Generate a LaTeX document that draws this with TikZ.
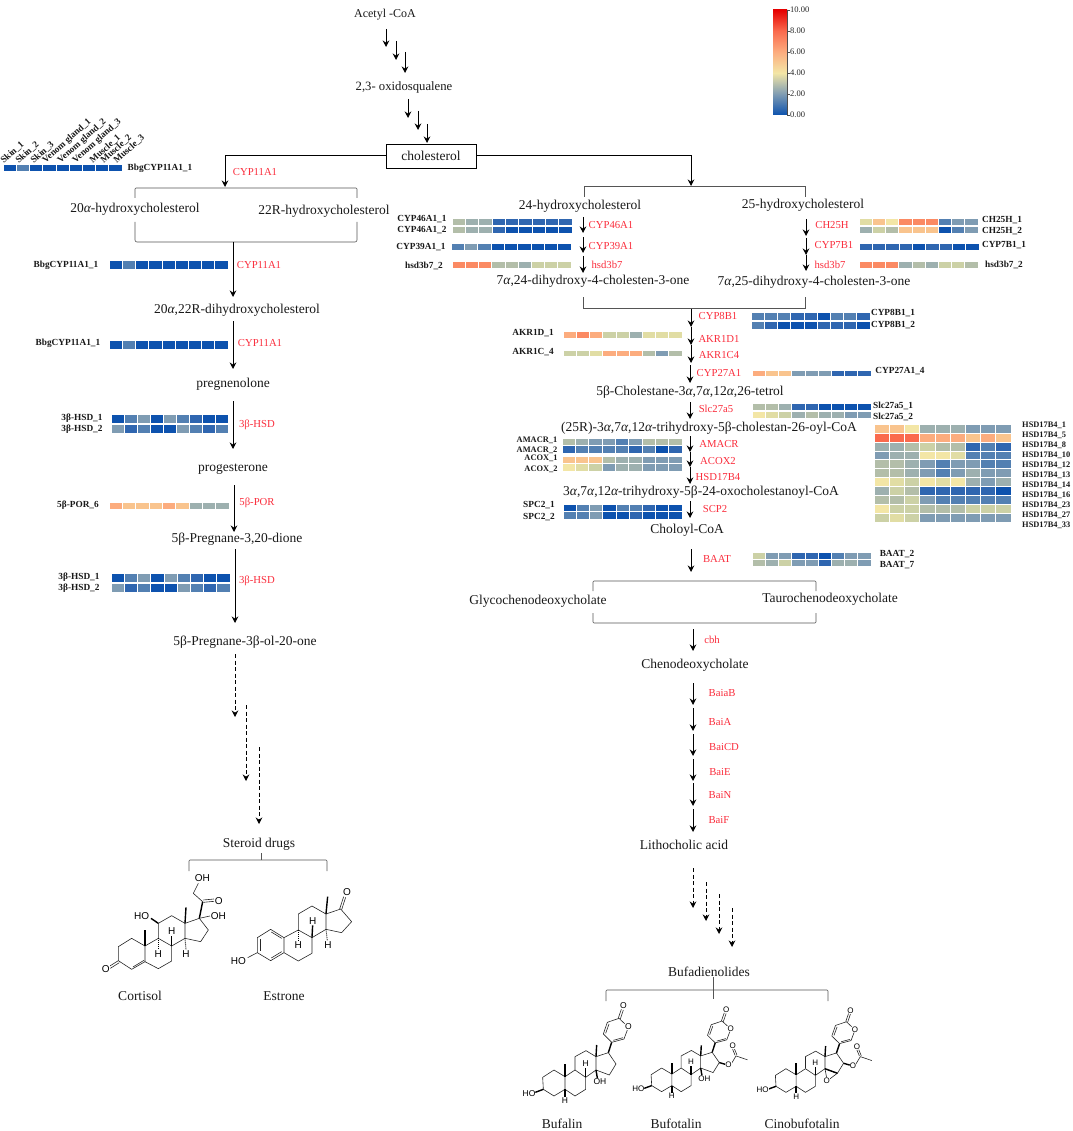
\documentclass[tikz,border=0pt]{standalone}
\usepackage{xcolor}
\usepackage{fontspec}
\setmainfont{Liberation Serif}
\newfontfamily\molfont{Liberation Sans}
\usetikzlibrary{arrows.meta, positioning, calc}
\definecolor{enzymered}{RGB}{250,45,60}
\definecolor{brackgray}{RGB}{85,85,85}
\definecolor{hma}{HTML}{0D52AE}
\definecolor{hmb}{HTML}{2F66B0}
\definecolor{hmc}{HTML}{5380B2}
\definecolor{hmd}{HTML}{7F9CB3}
\definecolor{hme}{HTML}{9DB0AF}
\definecolor{hmf}{HTML}{B3BEA9}
\definecolor{hmg}{HTML}{CCD1A6}
\definecolor{hmh}{HTML}{E1DDA4}
\definecolor{hmi}{HTML}{F3E6A6}
\definecolor{hmj}{HTML}{F9C48E}
\definecolor{hmk}{HTML}{FCAC7E}
\definecolor{hml}{HTML}{FB8A63}
\definecolor{hmm}{HTML}{FA6A4D}
\newcommand{\al}{{\itshape α}}
% x, y, cell width, cell height, colours
\newcommand{\heatrow}[5]{%
  \foreach \c [count=\i from 0] in {#5}
    \fill[fill=hm\c, draw=white, line width=0.4pt] ({#1+\i*#3},#2) rectangle +(#3,#4);}
% name, x, from y, to y
\newcommand{\flowstep}[4]{%
  \coordinate (#1s) at (#2,#3);
  \coordinate (#1e) at (#2,#4);
  \draw[flow] (#1s) -- (#1e);}
\newcommand{\dashstep}[4]{%
  \coordinate (#1s) at (#2,#3);
  \coordinate (#1e) at (#2,#4);
  \draw[flow, line width=0.9pt, dash pattern=on 4pt off 2.5pt] (#1s) -- (#1e);}
% bufadienolide skeleton without C14 and C16 groups
\newcommand{\bufskeleton}[1]{%
  \draw[bond] (98,262) -- (132,240) -- (165,260) -- (165,298) -- (132,318) -- (100,298) -- cycle;
  \draw[bond] (165,260) -- (195,240) -- (227,262) -- (227,298) -- (195,318) -- (165,298);
  \draw[bond] (195,240) -- (195,200) -- (228,182) -- (258,200) -- (258,240) -- (227,262);
  \draw[bond] (258,200) -- (295,188) -- (318,222) -- (298,255) -- (258,240);
  \draw[wedge] (165,260) -- (165,222);
  \draw[wedge] (258,200) -- (260,165);
  \draw[wedge] (295,188) -- (305,157);
  \draw[wedge] (227,262) -- (227,233);
  \draw[wedge] (165,298) -- (165,321);
  \draw[wedge] (100,298) -- (76,307);
  \draw[bond] (305,157) -- (280,132) -- (292,97) -- (327,85) -- (344,101);
  \draw[bond] (352,120) -- (342,147) -- (305,157);
  \draw[bond] (287,130) -- (297,102);
  \draw[bond] (310,151) -- (339,143);
  \draw[bond] (325,84) -- (334,58);
  \draw[bond] (331,87) -- (340,60);
  \node[atom] (#1O) at (355,110) {O};
  \node[atom] (#1Oc) at (340,47) {O};
  \node[atom] (#1Ha) at (227,220) {H};
  \node[atom] (#1Hb) at (165,333) {H};
  \node[atom] (#1HO) at (57,310) {HO};}
% acetate on C16
\newcommand{\acetate}[1]{%
  \draw[wedge] (318,222) -- (338,228);
  \draw[bond] (358,224) -- (372,200) -- (409,213);
  \draw[bond] (369,198) -- (361,178);
  \draw[bond] (375,197) -- (367,177);
  \node[atom] (#1Oa) at (348,230) {O};
  \node[atom] (#1Ob) at (361,167) {O};}
\begin{document}
\begin{tikzpicture}[
    x=1pt, y=-1pt,
    metab/.style={inner sep=1pt, yshift=-0.7pt, font=\fontsize{13.5}{15}\selectfont, text=black!90},
    enz/.style={inner sep=0pt, font=\fontsize{10.7}{13}\selectfont, text=enzymered},
    gene/.style={inner sep=0pt, font=\fontsize{9.3}{10}\selectfont\bfseries, text=black!90},
    genesm/.style={inner sep=0pt, font=\fontsize{8.4}{9}\selectfont\bfseries, text=black!90},
    sample/.style={inner sep=0pt, anchor=west, rotate=42, font=\fontsize{9.3}{10}\selectfont\bfseries, text=black!90},
    tick/.style={inner sep=0pt, anchor=west, font=\fontsize{8.5}{9}\selectfont, text=black!85},
    atom/.style={inner sep=0pt, fill=white, font=\molfont\fontsize{10}{10}\selectfont},
    flow/.style={-{Stealth[length=6.5pt, width=6.5pt]}, line width=1pt},
    brack/.style={line width=0.6pt, brackgray},
    bond/.style={line width=0.6pt, line join=round, black!85},
    wedge/.style={line width=1.4pt, black},
    hash/.style={line width=0.9pt, black, dash pattern=on 1pt off 1pt}
]
    \useasboundingbox (0,0) rectangle (1072,1131);

    % Colour bar
    \shade[bottom color=hma, top color=hmd] (773,115) rectangle (787,94);
    \shade[bottom color=hmd, top color=hmi] (773,94) rectangle (787,73);
    \shade[bottom color=hmi, top color=hmk] (773,73) rectangle (787,52);
    \shade[bottom color=hmk, top color=hmm] (773,52) rectangle (787,31);
    \shade[bottom color=hmm, top color=red!90!black] (773,31) rectangle (787,10);
    \draw[line width=0.4pt, black!70] (787,10) -- (787,115);
    \node[tick] (tick10) at (790,10) {10.00};
    \node[tick] (tick8) at (790,31) {8.00};
    \node[tick] (tick6) at (790,52) {6.00};
    \node[tick] (tick4) at (790,73) {4.00};
    \node[tick] (tick2) at (790,94) {2.00};
    \node[tick] (tick0) at (790,115) {0.00};
    \draw[line width=0.4pt, black!70] (tick10.west) -- ++(-3,0);
    \draw[line width=0.4pt, black!70] (tick8.west) -- ++(-3,0);
    \draw[line width=0.4pt, black!70] (tick6.west) -- ++(-3,0);
    \draw[line width=0.4pt, black!70] (tick4.west) -- ++(-3,0);
    \draw[line width=0.4pt, black!70] (tick2.west) -- ++(-3,0);
    \draw[line width=0.4pt, black!70] (tick0.west) -- ++(-3,0);

    % Top of the pathway
    \node[metab, font=\fontsize{12}{13}\selectfont] (acetyl) at (385,14) {Acetyl -CoA};
    \node[metab, font=\fontsize{12.7}{15}\selectfont] (oxido) at (404,87) {2,3- oxidosqualene};
    \node[draw, line width=0.9pt, minimum width=90pt, minimum height=24pt, metab, yshift=0.7pt] (chol) at (431,156) {cholesterol};
    \flowstep{aa}{386}{29}{47}
    \flowstep{ab}{396}{41}{60}
    \flowstep{ac}{405}{52}{73}
    \flowstep{ba}{408}{99}{118}
    \flowstep{bb}{418}{111}{130}
    \flowstep{bc}{427}{124}{143}
    \coordinate (leftin) at (225,187);
    \coordinate (rightin) at (691,186);
    \draw[flow] (chol.west) -| (leftin);
    \draw[flow] (chol.east) -| (rightin);

    % Left branch
    \node[metab] (hyd20) at (135,209) {20\al-hydroxycholesterol};
    \node[metab] (hyd22) at (324,211) {22R-hydroxycholesterol};
    \node[metab] (dihyd) at (237,310) {20\al,22R-dihydroxycholesterol};
    \node[metab] (pregnen) at (233,384) {pregnenolone};
    \node[metab] (proges) at (233,468) {progesterone};
    \node[metab] (dione) at (237,539) {5β-Pregnane-3,20-dione};
    \node[metab] (olone) at (245,641) {5β-Pregnane-3β-ol-20-one};
    \node[metab] (steroid) at (259,844) {Steroid drugs};
    \node[metab] (cortisol) at (140,995) {Cortisol};
    \node[metab] (estrone) at (284,995) {Estrone};
    \draw[brack, rounded corners=1pt] (135,198) -- (135,188) -- (357,188) -- (357,198);
    \draw[brack, rounded corners=2pt] (135,222) -- (135,242) -- (357,242) -- (357,222);
    \flowstep{la}{233}{242}{297}
    \flowstep{lb}{233}{321}{369}
    \flowstep{lc}{233}{401}{449}
    \flowstep{ld}{234}{485}{532}
    \flowstep{le}{235}{549}{623}
    \dashstep{lf}{235}{654}{717}
    \dashstep{lg}{246}{705}{781}
    \dashstep{lh}{259}{747}{824}
    \coordinate (drugl) at (189,871);
    \coordinate (drugtl) at (189,860);
    \coordinate (drugtr) at (327,860);
    \coordinate (drugr) at (327,871);
    \coordinate (drugt) at (261,853);
    \coordinate (drugm) at (261,860);
    \draw[brack, rounded corners=1pt] (drugl) -- (drugtl) -- (drugtr) -- (drugr);
    \draw[brack] (drugt) -- (drugm);

    \node[enz] (e1) at (255,172) {CYP11A1};
    \node[enz] (e2) at (259,265) {CYP11A1};
    \node[enz] (e3) at (260,343) {CYP11A1};
    \node[enz] (e4) at (257,425) {3β-HSD};
    \node[enz] (e5) at (257,503) {5β-POR};
    \node[enz] (e6) at (257,581) {3β-HSD};

    % Left heat rows
    \heatrow{3}{164.5}{13.2}{7}{a,c,a,a,a,a,a,a,a}
    \node[sample] (s1) at (2,162) {Skin\_1};
    \node[sample] (s2) at (17,162) {Skin\_2};
    \node[sample] (s3) at (32,162) {Skin\_3};
    \node[sample] (s4) at (44,162) {Venom gland\_1};
    \node[sample] (s5) at (59,162) {Venom gland\_2};
    \node[sample] (s6) at (74,162) {Venom gland\_3};
    \node[sample] (s7) at (91,162) {Muscle\_1};
    \node[sample] (s8) at (102,162) {Muscle\_2};
    \node[sample] (s9) at (115,162) {Muscle\_3};
    \node[gene] (g1) at (160,168) {BbgCYP11A1\_1};
    \heatrow{109}{260}{13.2}{9}{a,c,a,a,a,a,a,a,a}
    \node[gene] (g2) at (66,265) {BbgCYP11A1\_1};
    \heatrow{109}{340}{13.2}{9}{a,c,a,a,a,a,a,a,a}
    \node[gene] (g3) at (68,343) {BbgCYP11A1\_1};
    \heatrow{111}{414}{13}{9.5}{a,c,d,a,d,c,b,a,a}
    \heatrow{111}{424}{13}{9.5}{d,b,c,a,a,d,c,b,c}
    \node[gene] (g4) at (82,418) {3β-HSD\_1};
    \node[gene] (g5) at (82,429) {3β-HSD\_2};
    \heatrow{109}{502}{13.3}{7.5}{k,j,j,j,k,j,e,e,e}
    \node[gene] (g6) at (78,505) {5β-POR\_6};
    \heatrow{111}{573}{13.2}{9.5}{a,c,d,a,d,c,b,a,a}
    \heatrow{111}{583}{13.2}{9.5}{d,b,c,a,a,d,c,b,c}
    \node[gene] (g7) at (79,577) {3β-HSD\_1};
    \node[gene] (g8) at (79,588) {3β-HSD\_2};

    % Right branch, upper part
    \node[metab] (hyd24) at (580,206) {24-hydroxycholesterol};
    \node[metab] (hyd25) at (803,205) {25-hydroxycholesterol};
    \node[metab] (dihyd24) at (593,281) {7\al,24-dihydroxy-4-cholesten-3-one};
    \node[metab] (dihyd25) at (814,282) {7\al,25-dihydroxy-4-cholesten-3-one};
    \draw[brack] (584,197) -- (584,186) -- (805,186) -- (805,197);
    \draw[brack] (583,297) -- (583,308) -- (805,308) -- (805,297);
    \flowstep{ma}{583}{217}{233}
    \flowstep{mb}{583}{237}{253}
    \flowstep{mc}{583}{256}{273}
    \flowstep{na}{806}{219}{236}
    \flowstep{nb}{806}{238}{255}
    \flowstep{nc}{806}{255}{271}
    \node[enz] (e7) at (611,225) {CYP46A1};
    \node[enz] (e8) at (611,246) {CYP39A1};
    \node[enz] (e9) at (607,265) {hsd3b7};
    \node[enz] (e10) at (832,225) {CH25H};
    \node[enz] (e11) at (834,245) {CYP7B1};
    \node[enz] (e12) at (830,265) {hsd3b7};
    \heatrow{452}{218}{13.3}{7.5}{f,e,e,b,b,b,b,b,b}
    \heatrow{452}{226}{13.3}{7.5}{f,e,e,b,a,a,a,a,a}
    \node[gene] (g9) at (422,219) {CYP46A1\_1};
    \node[gene] (g10) at (422,230) {CYP46A1\_2};
    \heatrow{451}{243}{13.3}{7.5}{c,d,c,a,a,a,a,a,a}
    \node[gene] (g11) at (421,247) {CYP39A1\_1};
    \heatrow{452}{261}{13.2}{7.5}{l,l,l,f,f,e,g,g,g}
    \node[gene] (g12) at (424,266) {hsd3b7\_2};
    \heatrow{859}{218}{13.2}{7.5}{h,j,i,l,l,l,c,d,d}
    \heatrow{859}{226}{13.2}{7.5}{e,g,f,j,j,j,a,c,d}
    \node[gene] (g13) at (1002,220) {CH25H\_1};
    \node[gene] (g14) at (1002,231) {CH25H\_2};
    \heatrow{859}{243}{13.3}{7.5}{b,b,b,b,a,b,b,a,a}
    \node[gene] (g15) at (1004,245) {CYP7B1\_1};
    \heatrow{859}{261}{13.2}{7.5}{l,l,l,e,f,e,g,g,f}
    \node[gene] (g16) at (1004,265) {hsd3b7\_2};

    % Right branch, middle part
    \node[metab] (tetrol) at (690,391) {5β-Cholestane-3\al,7\al,12\al,26-tetrol};
    \node[metab] (oylcoa) at (709,428) {(25R)-3\al,7\al,12\al-trihydroxy-5β-cholestan-26-oyl-CoA};
    \node[metab] (oxocoa) at (701,492) {3\al,7\al,12\al-trihydroxy-5β-24-oxocholestanoyl-CoA};
    \node[metab] (choloyl) at (687,530) {Choloyl-CoA};
    \flowstep{pa}{691}{309}{327}
    \flowstep{pb}{691}{327}{345}
    \flowstep{pc}{691}{345}{363}
    \flowstep{pd}{690}{365}{383}
    \flowstep{pe}{690}{402}{419}
    \flowstep{pf}{690}{436}{452}
    \flowstep{pg}{690}{452}{467}
    \flowstep{ph}{690}{467}{484}
    \flowstep{pi}{690}{501}{518}
    \flowstep{pj}{691}{549}{572}
    \node[enz] (e13) at (718,316) {CYP8B1};
    \node[enz] (e14) at (719,339) {AKR1D1};
    \node[enz] (e15) at (719,355) {AKR1C4};
    \node[enz] (e16) at (719,373) {CYP27A1};
    \node[enz] (e17) at (716,409) {Slc27a5};
    \node[enz] (e18) at (719,444) {AMACR};
    \node[enz] (e19) at (718,461) {ACOX2};
    \node[enz] (e20) at (718,477) {HSD17B4};
    \node[enz] (e21) at (715,509) {SCP2};
    \node[enz] (e22) at (717,559) {BAAT};
    \heatrow{751}{312}{13.2}{8.5}{c,c,c,b,b,a,c,c,b}
    \heatrow{751}{321}{13.2}{8.5}{c,b,a,a,a,b,b,b,a}
    \node[gene] (g17) at (893,313.5) {CYP8B1\_1};
    \node[gene] (g18) at (893,325) {CYP8B1\_2};
    \heatrow{563}{331}{13.2}{7}{k,l,k,g,g,e,h,h,h}
    \node[gene] (g19) at (533,333) {AKR1D\_1};
    \heatrow{563}{350}{13.2}{6.5}{g,g,h,k,k,k,f,d,f}
    \node[gene] (g20) at (533,352) {AKR1C\_4};
    \heatrow{752}{370}{13.2}{6.5}{k,j,j,d,d,d,b,b,b}
    \node[gene] (g21) at (900,371) {CYP27A1\_4};
    \heatrow{752}{403}{13.2}{7.5}{f,f,e,b,b,a,a,a,a}
    \heatrow{752}{411}{13.2}{7.5}{i,h,g,e,f,e,e,d,d}
    \node[gene] (g22) at (893,406) {Slc27a5\_1};
    \node[gene] (g23) at (893,417) {Slc27a5\_2};
    \heatrow{562}{438}{13.3}{7.2}{f,e,d,d,c,d,f,f,f}
    \heatrow{562}{445.5}{13.3}{7.2}{b,c,c,c,c,b,c,a,b}
    \heatrow{562}{456}{13.3}{7.2}{j,j,j,f,e,e,d,d,d}
    \heatrow{562}{463.5}{13.3}{7.2}{i,h,g,d,e,e,d,d,d}
    \node[genesm] (g24) at (537,440) {AMACR\_1};
    \node[genesm] (g25) at (537,450) {AMACR\_2};
    \node[genesm] (g26) at (541,458) {ACOX\_1};
    \node[genesm] (g27) at (541,469) {ACOX\_2};
    \heatrow{563}{504}{13.2}{7.3}{a,c,d,a,c,c,b,a,a}
    \heatrow{563}{511.5}{13.2}{7.3}{c,c,d,a,a,b,a,a,a}
    \node[gene] (g28) at (539,505) {SPC2\_1};
    \node[gene] (g29) at (539,517) {SPC2\_2};
    \heatrow{752}{552}{13.2}{7}{g,d,d,b,b,a,c,d,d}
    \heatrow{752}{559}{13.2}{7}{f,e,g,d,d,b,e,e,d}
    \node[gene] (g30) at (897,554) {BAAT\_2};
    \node[gene] (g31) at (897,565) {BAAT\_7};

    % HSD17B4 block
    \heatrow{874}{424}{15.2}{8.9}{j,j,i,e,e,e,d,d,d}
    \heatrow{874}{432.9}{15.2}{8.9}{m,m,m,k,k,k,j,k,j}
    \heatrow{874}{441.8}{15.2}{8.9}{e,e,f,g,f,f,b,c,b}
    \heatrow{874}{450.7}{15.2}{8.9}{d,e,e,i,i,h,c,c,c}
    \heatrow{874}{459.6}{15.2}{8.9}{f,f,e,d,c,d,d,c,c}
    \heatrow{874}{468.5}{15.2}{8.9}{f,f,e,d,c,d,e,d,d}
    \heatrow{874}{477.4}{15.2}{8.9}{i,h,g,i,h,i,e,d,e}
    \heatrow{874}{486.3}{15.2}{8.9}{e,g,f,b,b,b,b,b,a}
    \heatrow{874}{495.2}{15.2}{8.9}{f,f,g,d,c,c,c,c,c}
    \heatrow{874}{504.1}{15.2}{8.9}{i,g,g,f,f,f,g,g,g}
    \heatrow{874}{513}{15.2}{8.9}{g,h,g,d,d,d,d,d,d}
    \node[genesm, anchor=west] (h1) at (1022,425) {HSD17B4\_1};
    \node[genesm, anchor=west] (h2) at (1022,435) {HSD17B4\_5};
    \node[genesm, anchor=west] (h3) at (1022,445) {HSD17B4\_8};
    \node[genesm, anchor=west] (h4) at (1022,455) {HSD17B4\_10};
    \node[genesm, anchor=west] (h5) at (1022,465) {HSD17B4\_12};
    \node[genesm, anchor=west] (h6) at (1022,475) {HSD17B4\_13};
    \node[genesm, anchor=west] (h7) at (1022,485) {HSD17B4\_14};
    \node[genesm, anchor=west] (h8) at (1022,495) {HSD17B4\_16};
    \node[genesm, anchor=west] (h9) at (1022,505) {HSD17B4\_23};
    \node[genesm, anchor=west] (h10) at (1022,515) {HSD17B4\_27};
    \node[genesm, anchor=west] (h11) at (1022,525) {HSD17B4\_33};

    % Right branch, lower part
    \node[metab] (glyco) at (538,601) {Glycochenodeoxycholate};
    \node[metab] (tauro) at (830,599) {Taurochenodeoxycholate};
    \node[metab] (cheno) at (695,665) {Chenodeoxycholate};
    \node[metab] (litho) at (684,844) {Lithocholic acid};
    \node[metab] (bufad) at (709,971) {Bufadienolides};
    \node[metab] (bufalin) at (562,1123.5) {Bufalin};
    \node[metab] (bufotalin) at (676,1123.5) {Bufotalin};
    \node[metab] (cinobuf) at (802,1123.5) {Cinobufotalin};
    \draw[brack, rounded corners=1pt] (593,591) -- (593,581) -- (816,581) -- (816,591);
    \draw[brack, rounded corners=1pt] (593,613) -- (593,623) -- (816,623) -- (816,613);
    \flowstep{qa}{693}{629}{651}
    \flowstep{qb}{693}{683}{705}
    \flowstep{qc}{693}{708}{731}
    \flowstep{qd}{693}{734}{756}
    \flowstep{qe}{693}{759}{781}
    \flowstep{qf}{693}{783}{806}
    \flowstep{qg}{693}{809}{832}
    \dashstep{ra}{693}{868}{908}
    \dashstep{rb}{706}{882}{921}
    \dashstep{rc}{719}{894}{934}
    \dashstep{rd}{732}{908}{947}
    \node[enz] (e23) at (712,640) {cbh};
    \node[enz] (e24) at (722,693) {BaiaB};
    \node[enz] (e25) at (720,722) {BaiA};
    \node[enz] (e26) at (724,747) {BaiCD};
    \node[enz] (e27) at (720,772) {BaiE};
    \node[enz] (e28) at (720,795) {BaiN};
    \node[enz] (e29) at (719,820) {BaiF};
    \coordinate (bufl) at (606,1001);
    \coordinate (buftl) at (606,990);
    \coordinate (buftr) at (828,990);
    \coordinate (bufr) at (828,1001);
    \coordinate (buft) at (713,977);
    \coordinate (bufm) at (713,999);
    \draw[brack, rounded corners=1pt] (bufl) -- (buftl) -- (buftr) -- (bufr);
    \draw[brack] (buft) -- (bufm);

    % Cortisol
    \begin{scope}[shift={(90,850)}, x=0.3333pt, y=-0.3333pt]
        \draw[bond] (85,290) -- (125,265) -- (165,288) -- (165,335) -- (125,358) -- (85,332) -- cycle;
        \draw[bond] (129,351) -- (162,331);
        \draw[bond] (165,288) -- (205,265) -- (245,288) -- (245,333) -- (205,356) -- (165,335);
        \draw[bond] (205,265) -- (205,220) -- (245,197) -- (285,220) -- (285,265) -- (245,288);
        \draw[bond] (285,220) -- (328,205) -- (355,240) -- (332,275) -- (285,265);
        \draw[bond] (85,332) -- (58,349);
        \draw[bond] (88,338) -- (61,355);
        \draw[wedge] (165,288) -- (165,240);
        \draw[wedge] (285,220) -- (288,172);
        \draw[wedge] (205,220) -- (183,205);
        \draw[wedge] (328,205) -- (338,155);
        \draw[wedge] (245,288) -- (245,258);
        \draw[hash] (205,265) -- (205,298);
        \draw[hash] (285,265) -- (288,298);
        \draw[bond] (328,205) -- (360,198);
        \draw[bond] (338,155) -- (310,130) -- (325,100);
        \draw[bond] (340,150) -- (372,147);
        \draw[bond] (340,157) -- (372,154);
        \node[atom] (cortO) at (47,357) {O};
        \node[atom] (cortOb) at (386,152) {O};
        \node[atom] (cortHO) at (155,197) {HO};
        \node[atom] (cortOHa) at (385,198) {OH};
        \node[atom] (cortOHb) at (337,85) {OH};
        \node[atom] (cortHa) at (245,242) {H};
        \node[atom] (cortHb) at (205,312) {H};
        \node[atom] (cortHc) at (288,312) {H};
    \end{scope}

    % Estrone
    \begin{scope}[shift={(90,850)}, x=0.3333pt, y=-0.3333pt]
        \draw[bond] (502,263) -- (542,238) -- (582,263) -- (582,308) -- (542,332) -- (502,308) -- cycle;
        \draw[bond] (510,268) -- (510,303);
        \draw[bond] (544,246) -- (575,265);
        \draw[bond] (544,324) -- (575,305);
        \draw[bond] (502,308) -- (473,323);
        \draw[bond] (582,263) -- (625,240) -- (666,263) -- (666,310) -- (625,333) -- (582,308);
        \draw[bond] (625,240) -- (625,192) -- (666,168) -- (708,192) -- (708,238) -- (666,263);
        \draw[bond] (708,192) -- (752,177) -- (785,215) -- (755,248) -- (708,238);
        \draw[bond] (749,177) -- (761,140);
        \draw[bond] (755,179) -- (767,142);
        \draw[wedge] (708,192) -- (713,140);
        \draw[wedge] (666,263) -- (668,226);
        \draw[hash] (625,240) -- (625,272);
        \draw[hash] (708,238) -- (712,272);
        \node[atom] (estHO) at (445,332) {HO};
        \node[atom] (estO) at (771,127) {O};
        \node[atom] (estHa) at (668,212) {H};
        \node[atom] (estHb) at (625,285) {H};
        \node[atom] (estHc) at (714,285) {H};
    \end{scope}

    % Bufalin
    \begin{scope}[shift={(510,990)}, x=0.3333pt, y=-0.3333pt, atom/.append style={font=\molfont\fontsize{8.5}{9}\selectfont}]
        \bufskeleton{bufa}
        \draw[wedge] (258,240) -- (262,264);
        \node[atom] (bufaOH) at (270,275) {OH};
    \end{scope}

    % Bufotalin
    \begin{scope}[shift={(620.7,995.3)}, x=0.31pt, y=-0.303pt, atom/.append style={font=\molfont\fontsize{8}{9}\selectfont}]
        \bufskeleton{bufo}
        \acetate{bufo}
        \draw[wedge] (258,240) -- (262,264);
        \node[atom] (bufoOH) at (270,277) {OH};
    \end{scope}

    % Cinobufotalin
    \begin{scope}[shift={(745,996)}, x=0.31pt, y=-0.303pt, atom/.append style={font=\molfont\fontsize{8}{9}\selectfont}]
        \bufskeleton{cino}
        \acetate{cino}
        \draw[bond] (258,240) -- (263,268);
        \draw[bond] (298,255) -- (273,274);
        \draw[wedge] (258,240) -- (298,255);
        \node[atom] (cinoO) at (264,280) {O};
    \end{scope}
\end{tikzpicture}
\end{document}
